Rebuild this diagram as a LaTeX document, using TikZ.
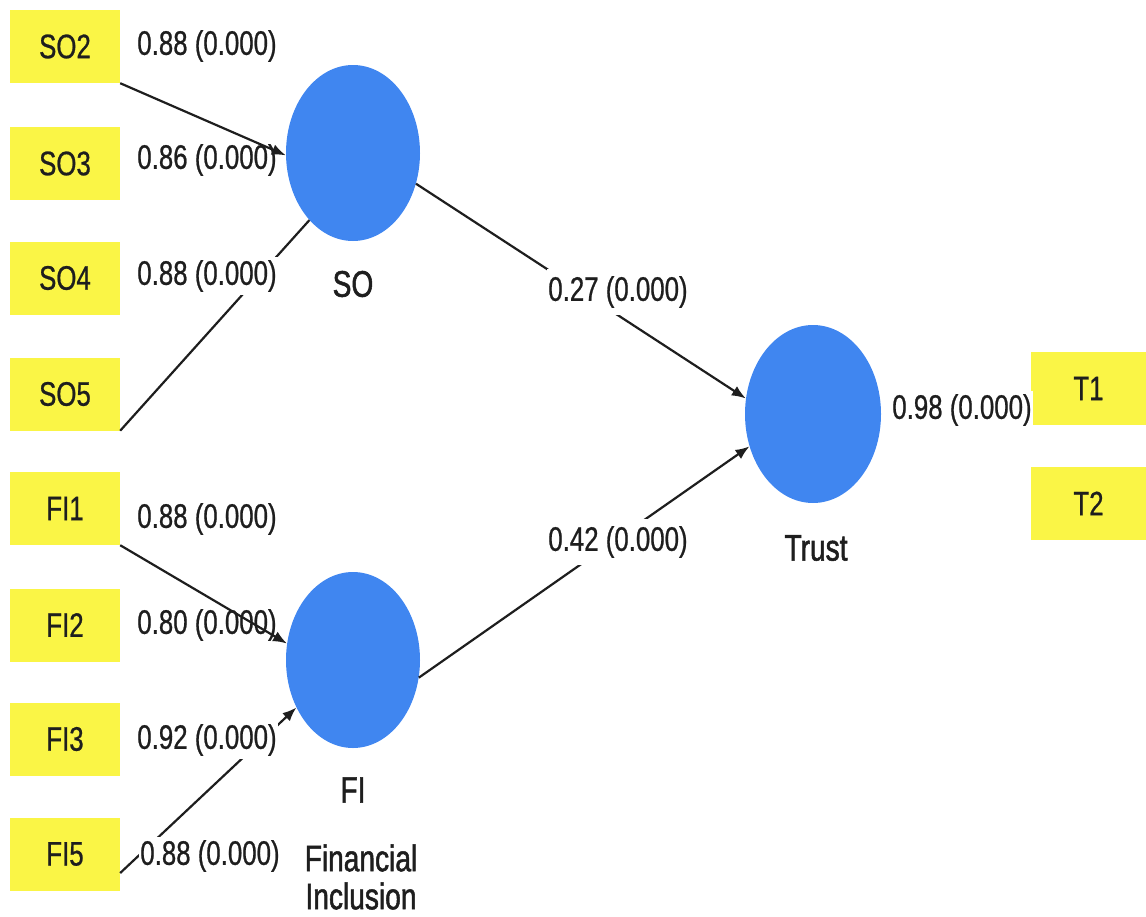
\documentclass[tikz,border=0pt]{standalone}
\usepackage{fontspec}
\setmainfont{Liberation Sans}[FakeStretch=0.76]
\newfontfamily\medfont{Liberation Sans}[FakeStretch=0.76,FakeBold=0.7]
\newfontfamily\semifont{Liberation Sans}[FakeStretch=0.76,FakeBold=1.4]
\usetikzlibrary{shapes.geometric,arrows.meta}
\definecolor{boxyellow}{RGB}{250,245,70}
\definecolor{latblue}{RGB}{64,134,240}
\definecolor{txt}{RGB}{30,30,30}
\begin{document}
\begin{tikzpicture}[x=1pt,y=-1pt,
 ind/.style={fill=boxyellow, minimum width=110pt, minimum height=73pt, inner sep=0pt, text=txt, font=\medfont\fontsize{34}{40}\selectfont},
 lat/.style={ellipse, fill=latblue, minimum width=134pt, minimum height=176pt, inner sep=0pt},
 coef/.style={fill=white, inner xsep=1pt, inner ysep=3pt, text=txt, font=\medfont\fontsize{34}{40}\selectfont},
 latname/.style={text=txt, font=\semifont\fontsize{37}{42}\selectfont, align=center, inner sep=0pt},
 link/.style={line width=2.2pt, draw=txt},
 arr/.style={link, -{Latex[length=14pt,width=11pt]}}]
\useasboundingbox (0,0) rectangle (1146,916);
% indicators
\node[ind] (SO2) at (65,46.5) {SO2};
\node[ind] (SO3) at (65,163.5) {SO3};
\node[ind] (SO4) at (65,278) {SO4};
\node[ind] (SO5) at (65,394) {SO5};
\node[ind] (FI1) at (65,508.5) {FI1};
\node[ind] (FI2) at (65,625) {FI2};
\node[ind] (FI3) at (65,739) {FI3};
\node[ind] (FI5) at (65,854) {FI5};
\node[ind, minimum width=115pt] (T1) at (1088.5,388.5) {T1};
\node[ind, minimum width=115pt] (T2) at (1088.5,503.5) {T2};
% latent variables
\node[lat] (SO) at (353,153) {};
\node[lat] (FI) at (353,660) {};
\node[lat, minimum width=136pt, minimum height=178pt] (Trust) at (813,414) {};
\node[latname] (SOn) at (353,284) {SO};
\node[latname] (FIn) at (353,790) {FI};
\node[latname] (FIl) at (361,877) {Financial\\[-4pt]Inclusion};
\node[latname] (Trn) at (816,548) {Trust};
% lines passing behind labels
\coordinate (FI5s) at ([yshift=-19pt]FI5.east);
\draw[link] (SO5.south east) -- (SO.237);
\draw[arr] (FI5s) -- (FI.220);
\draw[arr] (SO.-26) -- (Trust.167);
\draw[arr] (FI.-15) -- (Trust.207);
% coefficient labels
\node[coef] (c1) at (207,46) {0.88 (0.000)};
\node[coef] (c2) at (207,160) {0.86 (0.000)};
\node[coef] (c3) at (207,276) {0.88 (0.000)};
\node[coef] (c4) at (207,519) {0.88 (0.000)};
\node[coef] (c5) at (207,625) {0.80 (0.000)};
\node[coef] (c6) at (207,740) {0.92 (0.000)};
\node[coef] (c7) at (210,856) {0.88 (0.000)};
\node[coef, inner ysep=7pt] (c8) at (618,292) {0.27 (0.000)};
\node[coef, inner ysep=7pt] (c9) at (618,542) {0.42 (0.000)};
\node[coef] (c10) at (962,410) {0.98 (0.000)};
% arrows on top
\draw[arr] (SO2.south east) -- (SO.182);
\draw[arr] (FI1.south east) -- (FI.166);
\end{tikzpicture}
\end{document}
